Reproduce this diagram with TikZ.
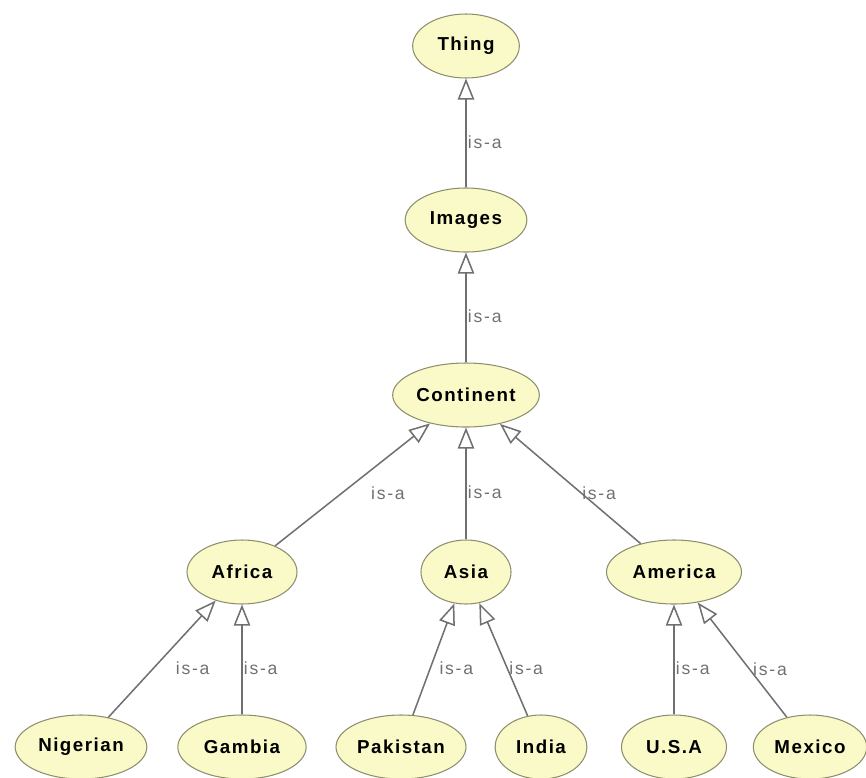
\documentclass[tikz,border=0pt]{standalone}
\usepackage{fontspec}
\setmainfont{Liberation Sans}
\newfontfamily\classfont[LetterSpace=8]{Liberation Sans}
\newfontfamily\labelfont[LetterSpace=10]{Liberation Sans}
\usetikzlibrary{arrows.meta,shapes.geometric}
\definecolor{classfill}{HTML}{FAFAC8}
\definecolor{classline}{HTML}{8E8E6E}
\definecolor{edgecol}{HTML}{707070}

\begin{document}
\begin{tikzpicture}[
  x=0.03cm, y=-0.03cm,
  classnode/.style={draw=classline, fill=classfill, ellipse, line width=0.9pt,
                    minimum height=1.92cm, inner sep=0pt,
                    font=\classfont\fontsize{16}{18}\selectfont\bfseries},
  isa/.style={draw=edgecol, line width=1.3pt,
              -{Triangle[open, fill=white, length=18pt, width=14pt]}},
  isalabel/.style={font=\labelfont\fontsize{15}{17}\selectfont, text=edgecol,
                   anchor=west, inner sep=1pt, yshift=-0.27cm},
]
\useasboundingbox (0,0) rectangle (866,777);

% classes
\node[classnode, minimum width=3.2cm]  (thing)     at (466,46)  {Thing};
\node[classnode, minimum width=3.65cm] (images)    at (466,220) {Images};
\node[classnode, minimum width=4.4cm]  (continent) at (466,395) {Continent};

\node[classnode, minimum width=3.3cm]  (africa)    at (242,572) {Africa};
\node[classnode, minimum width=2.7cm]  (asia)      at (466,572) {Asia};
\node[classnode, minimum width=4.05cm] (america)   at (674,572) {America};

\node[classnode, minimum width=3.95cm] (nigerian)  at (81,747)  {Nigerian};
\node[classnode, minimum width=3.85cm] (gambia)    at (242,747) {Gambia};
\node[classnode, minimum width=3.9cm]  (pakistan)  at (401,747) {Pakistan};
\node[classnode, minimum width=2.75cm] (india)     at (541,747) {India};
\node[classnode, minimum width=3.15cm] (usa)       at (674,747) {U.S.A};
\node[classnode, minimum width=3.4cm]  (mexico)    at (810,747) {Mexico};

% subclass links (child/parent/label shift)
\foreach \child/\parent/\lshift in {images/thing/0, continent/images/0,
                            africa/continent/0.5, asia/continent/0, america/continent/0.3,
                            nigerian/africa/0.36, gambia/africa/0,
                            pakistan/asia/0.12, india/asia/0.12,
                            usa/america/0, mexico/america/0.27}{
  \draw[isa] (\child) -- node[isalabel, xshift=\lshift cm] {is-a} (\parent);
}

\end{tikzpicture}
\end{document}
